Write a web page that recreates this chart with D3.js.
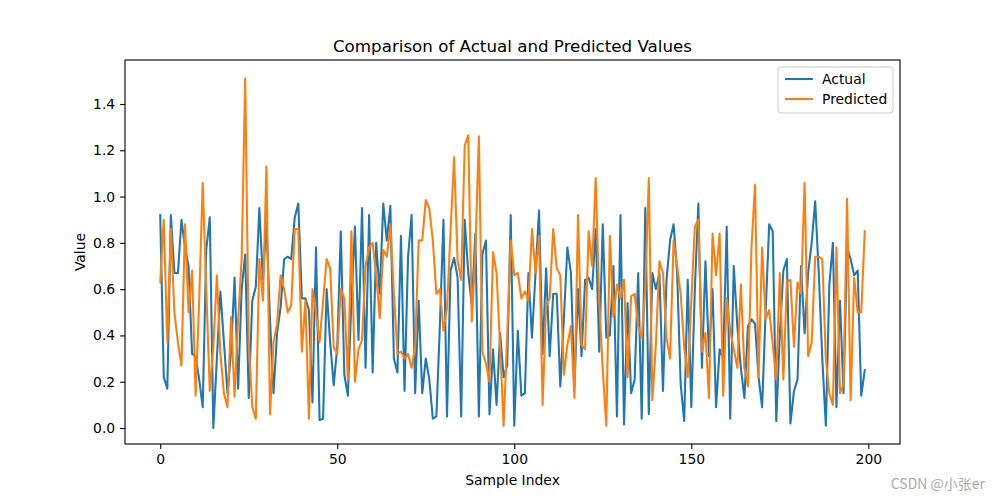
<!DOCTYPE html>
<html><head><meta charset="utf-8">
<script src="https://cdn.jsdelivr.net/npm/d3@7"></script>
<style>body{margin:0;background:#fff;} text{font-family:"DejaVu Sans",sans-serif;}</style>
</head><body><svg id="c" width="1000" height="500"></svg>
<script>
const actual = [0.92,0.22,0.17,0.92,0.67,0.67,0.90,0.78,0.70,0.32,0.31,0.21,0.09,0.77,0.91,0.00,0.30,0.59,0.37,0.15,
0.33,0.65,0.17,0.60,0.75,0.13,0.55,0.61,0.95,0.64,0.89,0.47,0.15,0.41,0.52,0.73,0.74,0.73,0.91,0.97,
0.56,0.56,0.51,0.11,0.78,0.035,0.04,0.60,0.37,0.185,0.35,0.85,0.23,0.14,0.55,0.87,0.38,0.95,0.26,0.92,
0.24,0.80,0.58,0.97,0.81,0.96,0.30,0.24,0.83,0.16,0.74,0.92,0.15,0.55,0.15,0.30,0.21,0.04,0.05,0.45,
0.90,0.05,0.68,0.735,0.65,0.05,0.90,0.67,0.53,0.84,0.05,0.75,0.81,0.06,0.34,0.10,0.41,0.22,0.27,0.92,
0.01,0.42,0.14,0.15,0.67,0.39,0.67,0.94,0.32,0.69,0.31,0.58,0.58,0.18,0.47,0.78,0.67,0.18,0.60,0.31,
0.64,0.65,0.60,0.86,0.33,0.88,0.39,0.40,0.70,0.05,0.92,0.015,0.54,0.15,0.21,0.67,0.04,0.95,0.06,0.67,
0.60,0.67,0.16,0.64,0.81,0.88,0.67,0.19,0.03,0.64,0.09,0.60,0.97,0.26,0.72,0.31,0.60,0.09,0.34,0.30,
0.87,0.04,0.70,0.44,0.26,0.13,0.44,0.47,0.45,0.22,0.09,0.50,0.88,0.85,0.03,0.40,0.68,0.73,0.02,0.16,
0.21,0.70,0.41,0.67,0.80,0.98,0.67,0.30,0.01,0.62,0.80,0.09,0.55,0.15,0.78,0.73,0.66,0.68,0.14,0.25];
const predicted = [0.63,0.90,0.37,0.86,0.50,0.37,0.27,0.88,0.50,0.68,0.14,0.55,1.06,0.60,0.16,0.35,0.66,0.32,0.15,0.09,
0.48,0.135,0.47,0.73,1.51,0.37,0.09,0.04,0.73,0.55,1.13,0.06,0.37,0.45,0.66,0.60,0.50,0.53,0.86,0.86,
0.33,0.55,0.04,0.60,0.50,0.37,0.55,0.73,0.69,0.35,0.32,0.60,0.56,0.21,0.85,0.20,0.34,0.38,0.70,0.78,
0.80,0.66,0.475,0.77,0.74,0.88,0.58,0.32,0.33,0.30,0.32,0.26,0.35,0.81,0.81,0.985,0.95,0.81,0.58,0.60,
0.42,0.52,0.85,1.17,0.72,0.64,1.22,1.265,0.46,0.75,1.26,0.33,0.28,0.20,0.76,0.67,0.35,0.01,0.40,0.81,
0.66,0.67,0.56,0.59,0.55,0.86,0.67,0.83,0.10,0.53,0.56,0.86,0.69,0.66,0.23,0.36,0.44,0.13,0.92,0.36,
0.34,0.85,0.70,1.08,0.55,0.25,0.01,0.83,0.48,0.62,0.56,0.64,0.22,0.57,0.58,0.44,0.39,0.60,1.08,0.12,
0.36,0.72,0.67,0.39,0.30,0.81,0.70,0.58,0.35,0.22,0.55,0.87,0.90,0.33,0.41,0.13,0.84,0.66,0.84,0.14,
0.56,0.42,0.34,0.26,0.62,0.26,0.18,0.78,1.05,0.22,0.78,0.47,0.51,0.36,0.21,0.67,0.21,0.63,0.64,0.35,
0.63,0.58,1.06,0.31,0.37,0.74,0.74,0.73,0.30,0.15,0.10,0.78,0.15,0.19,0.99,0.12,0.65,0.50,0.50,0.85];
const xTicks = [0,50,100,150,200];
const yTicks = [0.0,0.2,0.4,0.6,0.8,1.0,1.2,1.4];
const seriesNames = ["Actual","Predicted"];
const colors = ["#1f77b4","#ff7f0e"];

const svg = d3.select("#c");
const L=125,R=900,T=60,B=444;
const x = d3.scaleLinear().domain([-9.95,208.95]).range([L,R]);
const y = d3.scaleLinear().domain([-0.0691,1.5901]).range([B,T]);

const line = d3.line().x((d,i)=>x(i)).y(d=>y(d));
[actual,predicted].forEach((s,k)=>{
  svg.append("path").attr("d",line(s)).attr("fill","none").attr("stroke",colors[k])
    .attr("stroke-width",2.08).attr("stroke-linejoin","round").attr("stroke-linecap","square");
});

svg.append("rect").attr("x",L).attr("y",T).attr("width",R-L).attr("height",B-T)
  .attr("fill","none").attr("stroke","#000").attr("stroke-width",1.1);

const xa = svg.append("g").attr("transform",`translate(0,${B})`)
  .call(d3.axisBottom(x).tickValues(xTicks).tickSize(4.9).tickPadding(4.9).tickFormat(d3.format("d")));
const ya = svg.append("g").attr("transform",`translate(${L},0)`)
  .call(d3.axisLeft(y).tickValues(yTicks).tickSize(4.9).tickPadding(4.9).tickFormat(d3.format(".1f")));
[xa,ya].forEach(g=>{
  g.select(".domain").remove();
  g.selectAll("line").attr("stroke","#000").attr("stroke-width",1.1);
  g.selectAll("text").attr("font-size","13.9px").attr("fill","#000").style("font-family","DejaVu Sans");
});

svg.append("text").attr("x",(L+R)/2).attr("y",52).attr("text-anchor","middle")
  .attr("font-size","16.7px").text("Comparison of Actual and Predicted Values");
svg.append("text").attr("x",(L+R)/2).attr("y",485).attr("text-anchor","middle")
  .attr("font-size","13.9px").text("Sample Index");
svg.append("text").attr("transform",`translate(85,${(T+B)/2}) rotate(-90)`).attr("text-anchor","middle")
  .attr("font-size","13.9px").text("Value");

const lg = svg.append("g");
lg.append("rect").attr("x",778).attr("y",67).attr("width",115).attr("height",46).attr("rx",3)
  .attr("fill","#fff").attr("fill-opacity",0.8).attr("stroke","#ccc").attr("stroke-width",1);
seriesNames.forEach((n,k)=>{
  const yy = 79 + k*20;
  lg.append("line").attr("x1",785).attr("x2",813).attr("y1",yy).attr("y2",yy)
    .attr("stroke",colors[k]).attr("stroke-width",2.08);
  lg.append("text").attr("x",822).attr("y",yy+5).attr("font-size","13.9px").text(n);
});

svg.append("text").attr("x",985).attr("y",489).attr("text-anchor","end")
  .attr("font-size","14px").attr("fill","#aaa").style("font-family","'Noto Sans CJK SC','DejaVu Sans'").text("CSDN @小张er");
</script></body></html>
